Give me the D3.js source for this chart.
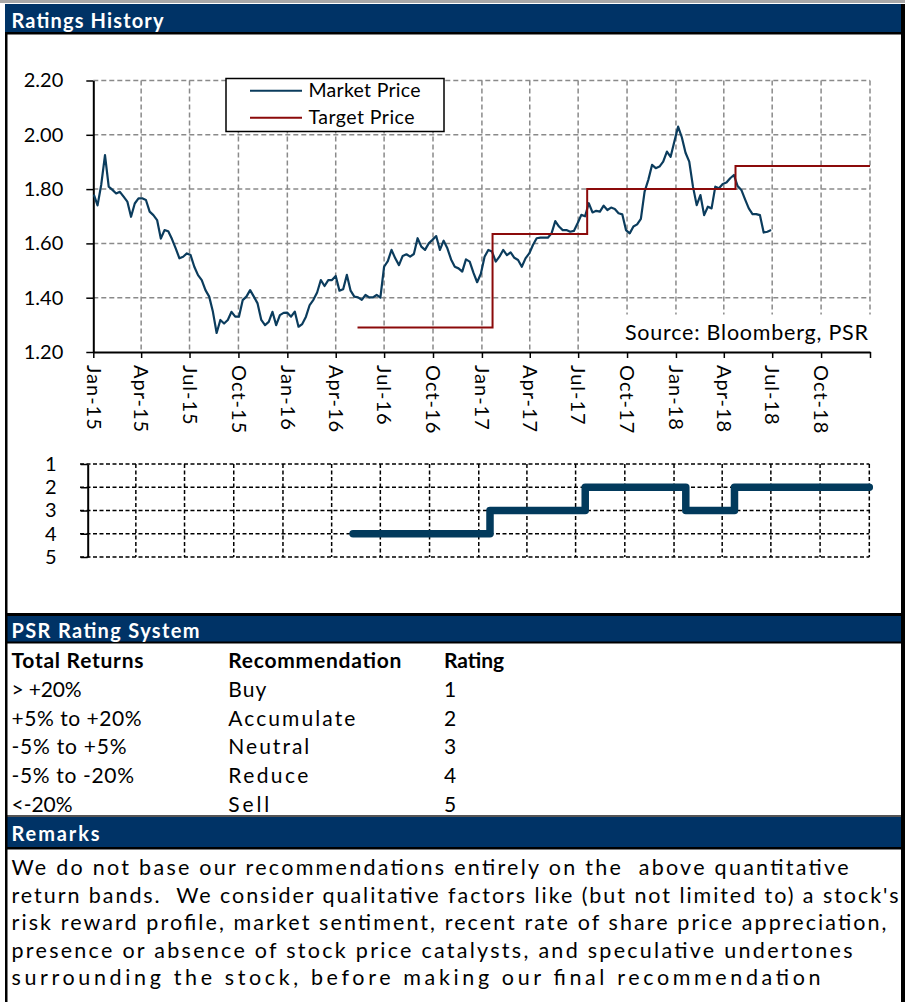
<!DOCTYPE html>
<html><head><meta charset="utf-8">
<script src="https://cdn.jsdelivr.net/npm/d3@7"></script>
<style>
body{margin:0;background:#fff;}
svg{display:block;font-family:Lato,"Open Sans",sans-serif;}
</style>
</head><body>
<svg id="c" width="905" height="1002"></svg>
<script>
// ---------------- DATA ----------------
const quarterLabels = ["Jan-15","Apr-15","Jul-15","Oct-15","Jan-16","Apr-16","Jul-16","Oct-16",
  "Jan-17","Apr-17","Jul-17","Oct-17","Jan-18","Apr-18","Jul-18","Oct-18"];
const axisEnd = "2019-01-01";
const priceTicks = [1.20,1.40,1.60,1.80,2.00,2.20];
const ratingTicks = [1,2,3,4,5];

// weekly closing prices, first week ending 2015-01-02
const priceStart = "2015-01-02";
const marketPrice = [
 1.78,1.74,1.817,1.925,1.809,1.797,1.784,1.79,1.772,1.754,
 1.698,1.747,1.766,1.766,1.76,1.717,1.704,1.686,1.618,1.649,
 1.645,1.616,1.582,1.545,1.551,1.563,1.557,1.514,1.483,1.465,
 1.428,1.404,1.348,1.27,1.318,1.305,1.318,1.348,1.33,1.33,
 1.391,1.404,1.428,1.404,1.379,1.318,1.299,1.311,1.348,1.299,
 1.336,1.344,1.345,1.330,1.349,1.293,1.303,1.330,1.373,1.392,
 1.419,1.465,1.443,1.465,1.465,1.48,1.426,1.431,1.484,1.426,
 1.404,1.401,1.392,1.410,1.401,1.401,1.410,1.400,1.514,1.535,
 1.576,1.545,1.520,1.554,1.560,1.551,1.561,1.619,1.588,1.576,
 1.600,1.613,1.627,1.576,1.610,1.582,1.541,1.514,1.508,1.496,
 1.541,1.533,1.492,1.457,1.488,1.551,1.576,1.570,1.533,1.551,
 1.576,1.557,1.567,1.547,1.539,1.514,1.545,1.563,1.594,1.619,
 1.621,1.621,1.621,1.637,1.682,1.662,1.649,1.649,1.643,1.646,
 1.674,1.705,1.700,1.748,1.714,1.720,1.717,1.739,1.723,1.732,
 1.727,1.711,1.707,1.649,1.637,1.662,1.670,1.690,1.791,1.834,
 1.889,1.877,1.883,1.901,1.938,1.919,1.975,2.030,1.991,1.934,
 1.901,1.809,1.741,1.778,1.704,1.735,1.729,1.809,1.803,1.819,
 1.824,1.840,1.852,1.811,1.797,1.762,1.729,1.708,1.708,1.704,
 1.640,1.643,1.649
];

const targetDates = ["2016-05-12","2017-01-21","2017-07-18","2018-04-23","2019-01-01"];
const targetPrice = [1.29,1.635,1.80,1.885,1.885];

const ratingDates = ["2016-05-11","2017-01-22","2017-07-19","2018-01-23","2018-04-24","2019-01-01"];
const ratingValues = [4,3,2,3,2,2];

const seriesNames = ["Market Price","Target Price"];
const sourceText = "Source: Bloomberg, PSR";
const sectionTitles = ["Ratings History","PSR Rating System","Remarks"];
const tableHeaders = ["Total Returns","Recommendation","Rating"];
const totalReturns = ["> +20%","+5% to +20%","-5% to +5%","-5% to -20%","<-20%"];
const recommendations = ["Buy","Accumulate","Neutral","Reduce","Sell"];
const ratingNumbers = ["1","2","3","4","5"];
const remarksLines = [
 "We do not base our recommendations entirely on the  above quantitative",
 "return bands.  We consider qualitative factors like (but not limited to) a stock's",
 "risk reward profile, market sentiment, recent rate of share price appreciation,",
 "presence or absence of stock price catalysts, and speculative undertones",
 "surrounding the stock, before making our final recommendation"
];

// ---------------- LAYOUT / STYLE ----------------
const NAVY = "#003366", PRICE_C = "#0b3c5d", TARGET_C = "#8b0a0a", RATING_C = "#023a5c";
const L = {
  top:{x0:93.3,x1:870,y0:352,y1:80.5},
  rate:{x0:87.7,x1:869.3,y0:464,y1:557},
  titleW:[152,188,88], titleY:[28,638.3,840.5],
  headW:[132,173,60], col:[11.5,228.3,444],
  colW1:[70,130,115,122.5,61], colW2:[38,127,81,80,41],
  rowY0:668.3, rowDY:28.7,
  remW:[837,887,875,841,809], remY0:875, remDY:27.5
};

const parse = d3.timeParse("%Y-%m-%d");
const parseQ = d3.timeParse("%b-%y");
const svg = d3.select("#c");

// ---------------- FRAME ----------------
svg.append("rect").attr("width",905).attr("height",1002).attr("fill","#fff");
svg.append("rect").attr("x",0).attr("y",0).attr("width",905).attr("height",3).attr("fill","#a8a8a8");
svg.append("rect").attr("x",5).attr("y",4).attr("width",896).attr("height",28).attr("fill",NAVY);
svg.append("rect").attr("x",5).attr("y",32).attr("width",896).attr("height",2.5).attr("fill","#000");
svg.append("rect").attr("x",5).attr("y",613).attr("width",896).attr("height",3).attr("fill","#000");
svg.append("rect").attr("x",5).attr("y",616).attr("width",896).attr("height",26).attr("fill",NAVY);
svg.append("rect").attr("x",5).attr("y",641.5).attr("width",896).attr("height",2).attr("fill","#000");
svg.append("rect").attr("x",5).attr("y",815).attr("width",896).attr("height",2).attr("fill","#555");
svg.append("rect").attr("x",5).attr("y",817).attr("width",896).attr("height",30).attr("fill",NAVY);
svg.append("rect").attr("x",5).attr("y",847).attr("width",896).attr("height",2.5).attr("fill","#000");
svg.append("rect").attr("x",5).attr("y",32).attr("width",2.5).attr("height",970).attr("fill","#000");
svg.append("rect").attr("x",901).attr("y",4).attr("width",4).attr("height",998).attr("fill","#000");

sectionTitles.forEach((t,i)=>{
  svg.append("text").attr("x",11.5).attr("y",L.titleY[i]).text(t)
    .attr("fill","#fff").attr("font-weight","bold").attr("font-size",20)
    .attr("textLength",L.titleW[i]).attr("lengthAdjust","spacing");
});

// ---------------- TOP CHART ----------------
const x = d3.scaleTime().domain([parseQ(quarterLabels[0]), parse(axisEnd)]).range([L.top.x0,L.top.x1]);
const y = d3.scaleLinear().domain([priceTicks[0], priceTicks[priceTicks.length-1]]).range([L.top.y0,L.top.y1]);
const qDates = quarterLabels.map(parseQ).concat([parse(axisEnd)]);

const grid = svg.append("g").attr("stroke","#8a8a8a").attr("stroke-width",1.5).attr("stroke-dasharray","5,3");
priceTicks.slice(1).forEach(v=>{
  grid.append("line").attr("x1",L.top.x0).attr("x2",L.top.x1).attr("y1",y(v)).attr("y2",y(v));
});
qDates.slice(1).forEach(d=>{
  grid.append("line").attr("x1",x(d)).attr("x2",x(d)).attr("y1",y(2.2)).attr("y2",y(1.2));
});

svg.append("rect").attr("x",621).attr("y",314.5).attr("width",252).attr("height",36).attr("fill","#fff");
svg.append("text").attr("x",625).attr("y",339.5).text(sourceText).attr("font-size",21.5)
  .attr("textLength",243).attr("lengthAdjust","spacing");

const yAxis = d3.axisLeft(y).tickValues(priceTicks).tickSize(7).tickSizeOuter(0).tickPadding(23)
  .tickFormat(d3.format(".2f"));
const gy = svg.append("g").attr("transform",`translate(${L.top.x0},0)`).call(yAxis);
const xAxis = d3.axisBottom(x).tickValues(qDates).tickSize(6).tickSizeOuter(0)
  .tickFormat((d,i)=> i<quarterLabels.length ? quarterLabels[i] : "");
const gx = svg.append("g").attr("transform",`translate(0,${L.top.y0})`).call(xAxis);
gx.selectAll("text").attr("transform","translate(0,13) rotate(90)").attr("x",0).attr("y",0)
  .attr("dy","0.36em").attr("text-anchor","start").style("letter-spacing","1px");
[gy,gx].forEach(g=>{
  g.select(".domain").attr("stroke","#000").attr("stroke-width",2);
  g.selectAll(".tick line").attr("stroke","#000").attr("stroke-width",1.5);
  g.selectAll("text").attr("font-family","Lato").attr("font-size",20).attr("fill","#000");
});

const weekDates = marketPrice.map((v,i)=> d3.timeDay.offset(parse(priceStart), 7*i));
const priceLine = d3.line().x((d,i)=>x(weekDates[i])).y(d=>y(d)).curve(d3.curveLinear);
svg.append("path").datum(marketPrice).attr("d",priceLine).attr("fill","none")
  .attr("stroke",PRICE_C).attr("stroke-width",2.2).attr("stroke-linejoin","round");

const tData = targetDates.map((d,i)=>({d:parse(d),v:targetPrice[i]}));
svg.append("path").datum(tData).attr("d",d3.line().x(d=>x(d.d)).y(d=>y(d.v)).curve(d3.curveStepAfter))
  .attr("fill","none").attr("stroke",TARGET_C).attr("stroke-width",2);

const lg = svg.append("g");
lg.append("rect").attr("x",226).attr("y",78.5).attr("width",218).attr("height",53)
  .attr("fill","#fff").attr("stroke","#000").attr("stroke-width",1.5);
[PRICE_C,TARGET_C].forEach((c,i)=>{
  const yy = 90.7 + 27*i;
  lg.append("line").attr("x1",250).attr("x2",302).attr("y1",yy).attr("y2",yy).attr("stroke",c).attr("stroke-width",2);
  lg.append("text").attr("x",308.5).attr("y",yy+6.5).text(seriesNames[i]).attr("font-size",19.5)
    .attr("textLength",[112,106][i]).attr("lengthAdjust","spacing");
});

// ---------------- RATING CHART ----------------
const rx = d3.scaleTime().domain([parseQ(quarterLabels[0]), parse(axisEnd)]).range([L.rate.x0,L.rate.x1]);
const ry = d3.scaleLinear().domain([1,5]).range([L.rate.y0,L.rate.y1]);
const rg = svg.append("g").attr("stroke","#000").attr("stroke-width",1.5).attr("stroke-dasharray","4,2.5");
ratingTicks.forEach(v=>{
  rg.append("line").attr("x1",80).attr("x2",L.rate.x1).attr("y1",ry(v)).attr("y2",ry(v));
});
qDates.slice(1).forEach(d=>{
  rg.append("line").attr("x1",rx(d)).attr("x2",rx(d)).attr("y1",ry(1)).attr("y2",ry(5));
});
const ryAxis = d3.axisLeft(ry).tickValues(ratingTicks).tickSize(7).tickSizeOuter(0).tickPadding(24)
  .tickFormat(d3.format("d"));
const gry = svg.append("g").attr("transform",`translate(${L.rate.x0},0)`).call(ryAxis);
gry.select(".domain").attr("stroke","#000").attr("stroke-width",2);
gry.selectAll(".tick line").attr("stroke","#000").attr("stroke-width",1.5);
gry.selectAll("text").attr("font-family","Lato").attr("font-size",20).attr("fill","#000");

const rData = ratingDates.map((d,i)=>({d:parse(d),v:ratingValues[i]}));
svg.append("path").datum(rData).attr("d",d3.line().x(d=>rx(d.d)).y(d=>ry(d.v)).curve(d3.curveStepAfter))
  .attr("fill","none").attr("stroke",RATING_C).attr("stroke-width",7.5)
  .attr("stroke-linecap","round").attr("stroke-linejoin","round");

// ---------------- TABLE ----------------
const tb = svg.append("g").attr("font-size",21).attr("fill","#000");
tableHeaders.forEach((h,i)=>{
  tb.append("text").attr("x",L.col[i]).attr("y",L.rowY0).text(h).attr("font-weight","bold")
    .attr("textLength",L.headW[i]).attr("lengthAdjust","spacing");
});
totalReturns.forEach((t,r)=>{
  const yy = L.rowY0 + L.rowDY*(r+1);
  tb.append("text").attr("x",L.col[0]).attr("y",yy).text(t).attr("textLength",L.colW1[r]).attr("lengthAdjust","spacing");
  tb.append("text").attr("x",L.col[1]).attr("y",yy).text(recommendations[r]).attr("textLength",L.colW2[r]).attr("lengthAdjust","spacing");
  tb.append("text").attr("x",L.col[2]).attr("y",yy).text(ratingNumbers[r]);
});

// ---------------- REMARKS ----------------
remarksLines.forEach((t,i)=>{
  svg.append("text").attr("x",11.5).attr("y",L.remY0 + L.remDY*i).text(t).attr("font-size",21.5)
    .attr("textLength",L.remW[i]).attr("lengthAdjust","spacing")
    .style("white-space","pre");
});
</script>
</body></html>
